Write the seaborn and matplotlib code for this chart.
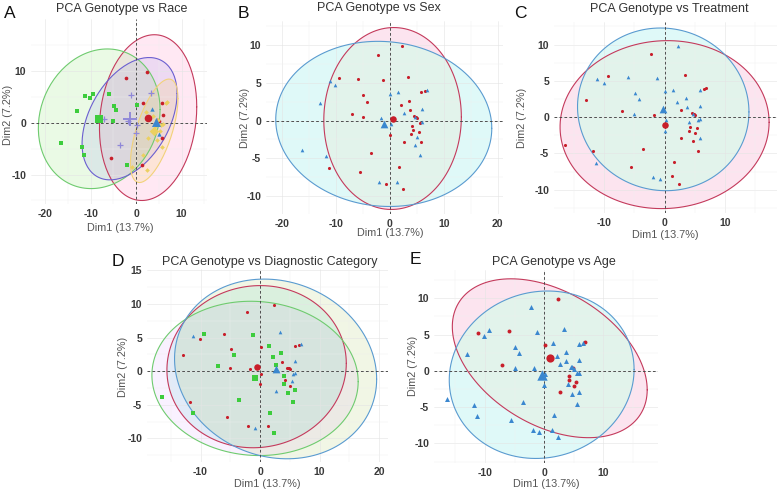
import numpy as np
import matplotlib
matplotlib.use("Agg")
import matplotlib.pyplot as plt
import seaborn as sns

sns.set_theme(style="white")
plt.rcParams["font.family"] = ["Liberation Sans", "DejaVu Sans"]
plt.rcParams["axes.unicode_minus"] = False

# PCA coordinates of the individuals (same individuals in every panel)
dim1 = [2.3, -2.2, 3.3, -9.4, -6.0, -1.2, -4.9, -4.3, 2.1, 3.6,
        3.7, 5.8, 6.5, 6.9, -7.1, -5.0, 4.5, 4.8, 5.1, 5.5,
        4.1, 4.2, 5.35, 4.0, 5.8, 2.65, 0.0, -3.5, -11.35, -5.6,
        1.6, -0.8, 2.4, -11.2, -10.1, -13.0, 0.1, 1.45, 5.9, 2.7,
        -1.7, 5.9, 0.2, 5.1, 4.7, 5.6, -16.4, -11.85, -1.95, 1.3,
        4.75]
dim2 = [9.85, 8.75, 5.8, 5.6, 5.55, 5.4, 3.35, 2.45, 2.1, 2.65,
        1.35, 3.75, 3.9, 4.0, 0.8, 0.45, 0.55, 0.45, 0.3, -0.35,
        -0.7, -1.3, -1.5, -1.85, -2.85, -2.9, -1.9, -4.35, -6.25, -6.8,
        -6.15, -8.45, -9.15, 5.2, 4.75, 2.35, 3.55, 3.8, 1.5, 0.95,
        0.35, -0.25, -0.45, -2.15, -3.25, -4.6, -3.85, -4.65, -8.2, -8.1,
        0.5]

# group of each individual, one list per panel
race = ["R1", "R1", "R4", "R3", "R3", "R4", "R3", "R3", "R5", "R2",
        "R5", "R1", "R5", "R5", "R4", "R3", "R1", "R1", "R1", "R5",
        "R5", "R5", "R5", "R5", "R1", "R5", "R4", "R4", "R3", "R1",
        "R5", "R5", "R5", "R3", "R3", "R3", "R3", "R1", "R1", "R5",
        "R4", "R5", "R4", "R2", "R5", "R5", "R3", "R3", "R3", "R1",
        "R5"]
sex = ["S1"] * 13 + ["S2"] + ["S1"] * 19 + ["S2"] * 18
treatment = ["T2", "T1", "T1", "T1", "T2", "T2", "T2", "T2", "T2", "T2",
             "T2", "T2", "T1", "T1", "T1", "T2", "T1", "T1", "T1", "T2",
             "T2", "T1", "T1", "T1", "T2", "T1", "T2", "T1", "T2", "T1",
             "T1", "T2", "T1", "T2", "T2", "T1", "T2", "T2", "T2", "T1",
             "T1", "T2", "T2", "T1", "T1", "T1", "T1", "T1", "T2", "T1",
             "T2"]
diagnosis = ["D1", "D1", "D3", "D2", "D1", "D2", "D1", "D2", "D2", "D2",
             "D1", "D1", "D1", "D3", "D2", "D1", "D1", "D1", "D1", "D3",
             "D2", "D1", "D3", "D2", "D2", "D3", "D1", "D2", "D2", "D1",
             "D2", "D3", "D2", "D3", "D1", "D1", "D1", "D2", "D3", "D2",
             "D1", "D3", "D1", "D1", "D2", "D2", "D2", "D1", "D1", "D1",
             "D1"]
age = ["A1", "A2", "A2", "A2", "A1", "A2", "A2", "A2", "A2", "A2",
       "A2", "A2", "A2", "A1", "A1", "A2", "A2", "A1", "A2", "A2",
       "A1", "A1", "A1", "A2", "A2", "A1", "A2", "A2", "A2", "A2",
       "A2", "A2", "A2", "A1", "A2", "A2", "A1", "A2", "A2", "A2",
       "A2", "A2", "A2", "A1", "A2", "A2", "A2", "A2", "A2", "A2",
       "A2"]

W, H = 777, 491
RED = dict(color="#C81E2A", marker="o", edge="#C43A5C", fill="#FCE4EF")
BLUE = dict(color="#3A87CF", marker="^", edge="#5A9BD0", fill="#DFF9F8")


def ellipse_xy(x, y, level=0.95, n=150):
    # normal-theory data ellipse (ggplot2 stat_ellipse, type = "norm")
    x, y = np.asarray(x), np.asarray(y)
    dfd = len(x) - 1
    f = dfd / 2 * ((1 - level) ** (-2 / dfd) - 1)
    r = np.sqrt(2 * f)
    t = np.linspace(0, 2 * np.pi, n)
    circ = np.column_stack([np.cos(t), np.sin(t)])
    L = np.linalg.cholesky(np.cov(x, y))
    pts = np.array([x.mean(), y.mean()]) + r * circ @ L.T
    return pts[:, 0], pts[:, 1]


def px_text(x, y, s, **kw):
    fig.text(x / W, 1 - y / H, s, ha="center", va="center", **kw)


def draw_panel(rect, labels, styles, xlim, ylim, xt, yt, title, letter,
               title_xy, letter_xy, xlab_xy, ylab_xy, s_pt, s_mean,
               overlap=None, alpha=0.14):
    l, t, r, b = rect
    ax = fig.add_axes([l / W, 1 - b / H, (r - l) / W, (b - t) / H])
    x = np.array(dim1)
    y = np.array(dim2)
    lab = np.array(labels)

    # ellipse fills
    shapes = []
    for g, st in styles.items():
        m = lab == g
        if m.sum() < 3:
            continue
        ex, ey = ellipse_xy(x[m], y[m])
        shapes.append((ex, ey, st))
    if overlap is None:
        for ex, ey, st in shapes:
            ax.fill(ex, ey, color=st["fill"], alpha=alpha, lw=0, zorder=1)
    else:
        polys = []
        for ex, ey, st in shapes:
            polys.append(ax.fill(ex, ey, color=st["fill"], lw=0, zorder=1)[0])
        ex, ey, st = shapes[1]
        p = ax.fill(ex, ey, color=overlap, lw=0, zorder=1.1)[0]
        p.set_clip_path(polys[0])

    # grid (drawn over the pale fills, as it shows through in the figure)
    for v in xt:
        ax.axvline(v, color="#E4E4E4", lw=0.5, zorder=1.3, alpha=0.8)
    for v in yt:
        ax.axhline(v, color="#E4E4E4", lw=0.5, zorder=1.3, alpha=0.8)
    for v in np.arange(xt[0] - 5, xt[-1] + 10, 10):
        ax.axvline(v, color="#EFEFEF", lw=0.35, zorder=1.3, alpha=0.8)
    ystep = yt[1] - yt[0]
    for v in np.arange(yt[0] - ystep / 2, yt[-1] + ystep, ystep):
        ax.axhline(v, color="#EFEFEF", lw=0.35, zorder=1.3, alpha=0.8)

    for ex, ey, st in shapes:
        ax.plot(ex, ey, color=st["edge"], lw=0.8, zorder=2)

    ax.axhline(0, color="#444444", lw=0.65, ls=(0, (3, 2.5)), zorder=2.5)
    ax.axvline(0, color="#444444", lw=0.65, ls=(0, (3, 2.5)), zorder=2.5)

    # individuals and group means
    for g, st in styles.items():
        m = lab == g
        mk = st["marker"]
        k = st.get("k", 1)
        sns.scatterplot(x=x[m], y=y[m], color=st["color"], marker=mk,
                        s=s_pt * k, linewidth=0.9 if mk == "+" else 0,
                        ax=ax, zorder=3, legend=False)
        sns.scatterplot(x=[x[m].mean()], y=[y[m].mean()], color=st["color"],
                        marker=mk, s=s_mean * k,
                        linewidth=1.4 if mk == "+" else 0,
                        ax=ax, zorder=4, legend=False)

    ax.set_xlim(*xlim)
    ax.set_ylim(*ylim)
    ax.set_xticks(xt)
    ax.set_yticks(yt)
    ax.set_xticklabels([str(v) for v in xt])
    ax.set_yticklabels([str(v) for v in yt])
    ax.tick_params(length=2, width=0.7, color="#333333", pad=1.5,
                   labelsize=7.5, labelcolor="#3A3A3A")
    for tl in ax.get_xticklabels() + ax.get_yticklabels():
        tl.set_fontweight("bold")
    for sp in ax.spines.values():
        sp.set_visible(False)
    ax.set_xlabel("")
    ax.set_ylabel("")
    px_text(*xlab_xy, "Dim1 (13.7%)", fontsize=7.8, color="#555555")
    px_text(*ylab_xy, "Dim2 (7.2%)", fontsize=7.8, color="#555555",
            rotation=90)
    px_text(*title_xy, title, fontsize=9, color="#333333")
    px_text(*letter_xy, letter, fontsize=12.5, color="#111111")
    return ax


fig = plt.figure(figsize=(7.77, 4.91), dpi=100)

race_styles = {
    "R1": dict(color="#C81E2A", marker="o", edge="#C43A5C", fill="#FF4FA8"),
    "R2": dict(color="#3A87CF", marker="^", edge="#5A9BD0", fill="#2EDDDD", k=1.4),
    "R3": dict(color="#3DCC3D", marker="s", edge="#6FCB6F", fill="#5EDD3A", k=1.2),
    "R4": dict(color="#9088D8", marker="+", edge="#6B5FD0", fill="#7777EE", k=3),
    "R5": dict(color="#EBD060", marker="D", edge="#F2D27A", fill="#F7CD20", k=0.8),
}
draw_panel((31, 19, 207, 204), race, race_styles, (-23.1, 15.6), (-15.7, 20.1),
           [-20, -10, 0, 10], [-10, 0, 10], "PCA Genotype vs Race", "A",
           (122, 9), (10, 14), (120, 228), (8, 115), 7, 30, alpha=0.13)

draw_panel((266, 21, 503, 214), sex, {"S1": RED, "S2": dict(BLUE, k=1.4)},
           (-23.0, 21.0), (-12.4, 13.2), [-20, -10, 0, 10, 20],
           [-10, -5, 0, 5, 10], "PCA Genotype vs Sex", "B",
           (379, 8), (243, 14), (390, 233), (245, 118), 5, 22,
           overlap="#E2F3EB")

draw_panel((554, 22, 777, 213), treatment,
           {"T1": RED, "T2": dict(BLUE, k=1.4)},
           (-18.3, 18.6), (-13.2, 13.1), [-10, 0, 10], [-10, -5, 0, 5, 10],
           "PCA Genotype vs Treatment", "C", (669, 9), (520, 13),
           (665, 235), (522, 118), 5, 22, overlap="#E2F3EB")

diag_styles = {
    "D1": dict(color="#C81E2A", marker="o", edge="#C43A5C", fill="#00BFC4"),
    "D2": dict(color="#3DCC3D", marker="s", edge="#6FCB6F", fill="#C77CFF"),
    "D3": dict(color="#3A87CF", marker="^", edge="#5A9BD0", fill="#7CAE00", k=1.4),
}
draw_panel((147, 269, 388, 462), diagnosis, diag_styles, (-19.0, 21.5),
           (-13.5, 15.2), [-10, 0, 10, 20], [-10, -5, 0, 5, 10, 15],
           "PCA Genotype vs Diagnostic Category", "D", (270, 262), (118, 261),
           (267, 484), (123, 367), 5, 22, alpha=0.1)

draw_panel((434, 270, 658, 463), age, {"A1": RED, "A2": dict(BLUE, k=1.6)},
           (-18.6, 19.2), (-12.7, 13.9), [-10, 0, 10], [-10, -5, 0, 5, 10],
           "PCA Genotype vs Age", "E", (554, 262), (415, 260),
           (546, 484), (413, 366), 8, 35, overlap="#E2F3EB")

fig.savefig("out.png", dpi=100)
